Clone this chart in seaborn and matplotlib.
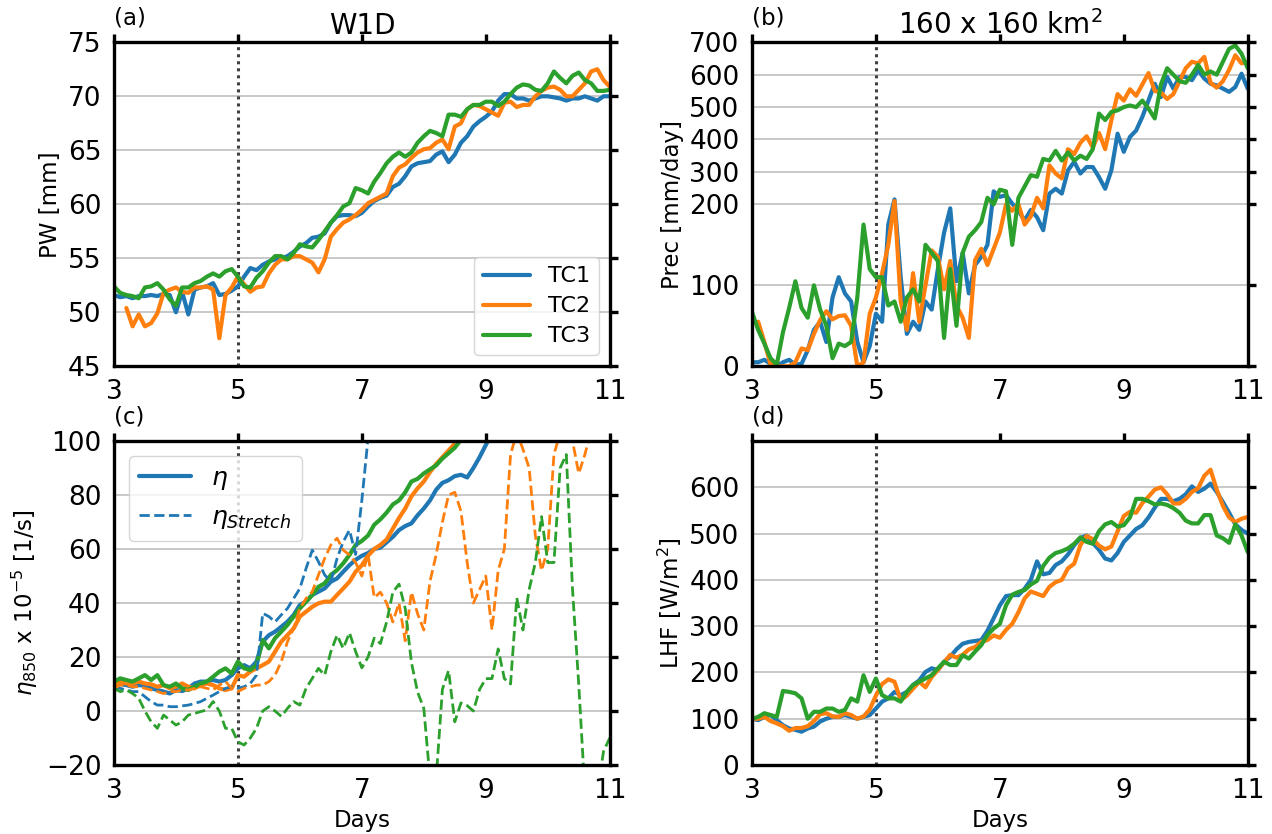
import numpy as np
import pandas as pd
import matplotlib
matplotlib.use("Agg")
import matplotlib.pyplot as plt
from matplotlib.lines import Line2D
import seaborn as sns

nan = np.nan

# time axis, one value every 0.1 day from day 3 to day 11
days = np.linspace(3, 11, 81)
runs = ["TC1", "TC2", "TC3"]
colors = ["#1f77b4", "#ff7f0e", "#2ca02c"]

# (a) precipitable water [mm]
pw_tc1 = [51.6, 51.4, 51.5, 51.3, 51.5, 51.5, 51.6, 51.5, 51.7, 51.6,
          50.0, 51.9, 49.8, 52.1, 52.3, 52.4, 52.7, 51.6, 51.7, 52.0,
          52.4, 53.3, 54.1, 53.9, 54.4, 54.7, 54.9, 55.0, 55.2, 55.6,
          56.1, 56.4, 56.9, 57.0, 57.3, 58.3, 58.9, 59.0, 59.0, 58.9,
          59.2, 59.8, 60.3, 60.6, 60.8, 61.6, 61.9, 62.6, 63.5, 63.8,
          63.9, 64.0, 64.6, 64.9, 63.9, 64.6, 65.7, 66.3, 67.2, 67.7,
          68.1, 68.6, 69.6, 70.2, 70.2, 69.8, 69.8, 69.6, 69.8, 70.0,
          70.0, 69.9, 69.8, 69.6, 69.8, 69.8, 70.0, 69.8, 69.6, 70.0,
          70.0]
pw_tc2 = [nan, nan, 50.4, 48.7, 49.8, 48.7, 49.0, 49.9, 51.8, 52.1,
          52.3, 51.9, 51.8, 52.3, 52.3, 52.4, 52.1, 47.6, 51.6, 52.3,
          53.3, 52.6, 51.9, 52.3, 52.4, 53.6, 54.4, 54.9, 54.9, 55.2,
          55.2, 54.9, 54.6, 53.7, 54.9, 57.0, 57.7, 58.3, 58.6, 59.0,
          59.5, 60.1, 60.4, 60.7, 61.0, 62.6, 63.4, 63.7, 64.3, 64.8,
          65.1, 65.2, 65.7, 66.0, 65.1, 67.2, 67.5, 68.8, 69.2, 69.1,
          68.8, 68.5, 68.2, 69.4, 69.5, 69.0, 69.2, 69.2, 70.0, 70.5,
          70.8, 70.9, 70.6, 70.0, 70.0, 70.6, 71.2, 72.3, 72.5, 71.5,
          70.9]
pw_tc3 = [52.4, 51.8, 51.6, 51.5, 51.3, 52.3, 52.4, 52.7, 52.1, 51.2,
          50.6, 52.3, 52.3, 52.7, 52.9, 53.3, 53.6, 53.3, 53.8, 54.0,
          53.3, 52.4, 52.3, 53.2, 53.8, 54.6, 55.2, 55.2, 54.9, 55.5,
          56.3, 56.1, 56.0, 56.7, 57.5, 58.3, 59.0, 59.8, 60.1, 61.5,
          61.3, 61.0, 62.1, 62.9, 63.8, 64.4, 64.8, 64.4, 64.8, 65.7,
          66.3, 66.8, 66.6, 66.3, 68.3, 68.3, 68.1, 68.8, 69.2, 69.2,
          69.5, 69.5, 69.1, 69.5, 70.2, 70.8, 71.1, 71.0, 70.6, 70.5,
          71.2, 72.3, 71.7, 71.2, 71.9, 72.2, 71.5, 71.2, 70.5, 70.5,
          70.6]

# (b) precipitation [mm/day]
prec_tc1 = [5, 5, 8, 3, 0, 5, 8, 2, 3, 20,
            45, 55, 30, 85, 110, 90, 80, 30, 5, 25,
            65, 55, 175, 215, 110, 40, 55, 45, 80, 70,
            120, 165, 195, 105, 140, 90, 125, 135, 150, 240,
            223, 228, 202, 192, 180, 193, 184, 168, 233, 248,
            233, 305, 331, 295, 315, 315, 284, 248, 305, 418,
            362, 408, 428, 470, 521, 572, 531, 593, 557, 593,
            593, 583, 614, 588, 572, 567, 557, 547, 562, 603,
            557]
prec_tc2 = [nan, 55, 30, 2, 0, 0, 0, 5, 22, 20,
            40, 57, 68, 58, 62, 63, 50, 0, 5, 65,
            85, 115, 150, 210, 80, 45, 115, 55, 100, 143,
            135, 95, 130, 75, 60, 35, 131, 145, 125, 145,
            165, 200, 192, 200, 175, 185, 220, 195, 320, 295,
            280, 370, 355, 390, 410, 375, 420, 370, 460, 540,
            520, 555, 535, 570, 605, 550, 545, 525, 540, 580,
            620, 640, 635, 655, 575, 560, 580, 615, 660, 635,
            640]
prec_tc3 = [67, 45, 28, 10, 2, 42, 72, 105, 72, 60,
            100, 70, 50, 10, 28, 25, 30, 85, 175, 120,
            110, 110, 75, 80, 55, 85, 95, 80, 150, 140,
            130, 35, 120, 50, 140, 160, 168, 178, 220, 200,
            245, 240, 150, 220, 255, 290, 285, 340, 335, 365,
            335, 360, 335, 350, 340, 370, 480, 460, 485, 490,
            500, 505, 500, 520, 495, 465, 570, 620, 600, 580,
            575, 600, 630, 600, 610, 600, 640, 680, 690, 665,
            620]

# (c) absolute vorticity at 850 hPa, x 1e-5 [1/s]
eta_tc1 = [10.2, 10.0, 9.6, 9.0, 9.6, 9.4, 8.4, 7.8, 7.2, 6.5,
           7.8, 7.4, 8.4, 10.2, 10.9, 10.9, 11.5, 10.9, 11.5, 13.3,
           15.8, 17.0, 15.8, 18.3, 25.7, 28.1, 29.4, 31.2, 33.1, 35.6,
           39.3, 40.5, 43.0, 44.2, 45.4, 47.9, 49.1, 51.6, 54.0, 56.0,
           57.5, 58.5, 60.0, 60.5, 62.5, 64.5, 67.0, 68.5, 69.5, 72.5,
           75.0, 78.0, 82.0, 84.5, 85.5, 87.0, 87.5, 86.5, 90.0, 94.0,
           98.5, 103, nan, nan, nan, nan, nan, nan, nan, nan,
           nan, nan, nan, nan, nan, nan, nan, nan, nan, nan,
           nan]
eta_tc2 = [9.6, 10.9, 10.2, 10.2, 10.9, 10.2, 9.9, 9.0, 9.6, 8.4,
           9.0, 10.2, 9.0, 8.4, 9.6, 10.2, 9.6, 8.4, 7.8, 8.4,
           13.3, 12.7, 14.6, 15.8, 17.0, 18.3, 22.0, 25.7, 28.1, 30.6,
           35.0, 36.8, 38.6, 39.9, 40.5, 40.5, 43.0, 45.4, 47.9, 51.6,
           54.0, 57.5, 60.0, 61.5, 63.5, 67.5, 71.5, 75.0, 79.5, 82.5,
           85.0, 88.5, 91.5, 94.0, 96.5, 99.0, 102, nan, nan, nan,
           nan, nan, nan, nan, nan, nan, nan, nan, nan, nan,
           nan, nan, nan, nan, nan, nan, nan, nan, nan, nan,
           nan]
eta_tc3 = [10.9, 12.1, 11.5, 10.9, 12.1, 13.3, 11.5, 13.3, 9.6, 9.0,
           10.2, 8.4, 7.8, 9.0, 10.2, 10.9, 12.7, 14.6, 15.8, 13.9,
           18.3, 15.8, 15.2, 17.0, 26.3, 23.2, 27.0, 29.4, 31.9, 35.0,
           38.0, 40.5, 43.0, 46.0, 47.3, 50.4, 52.2, 54.7, 57.8, 61.5,
           63.0, 65.0, 69.0, 71.0, 73.5, 76.5, 78.0, 81.0, 85.0, 86.0,
           88.0, 89.5, 91.0, 93.5, 95.5, 97.5, 100.5, 103, nan, nan,
           nan, nan, nan, nan, nan, nan, nan, nan, nan, nan,
           nan, nan, nan, nan, nan, nan, nan, nan, nan, nan,
           nan]
str_tc1 = [9.0, 8.4, 7.8, 7.2, 7.2, 5.3, 3.5, 2.2, 2.2, 1.6,
           1.6, 1.9, 2.2, 2.8, 3.5, 4.7, 5.9, 7.2, 8.4, 9.0,
           8.4, 9.0, 10.2, 13.3, 36.2, 35.0, 33.0, 35.6, 38.0, 41.7,
           45.4, 52.8, 59.6, 55.3, 50.4, 47.9, 56.5, 62.7, 67.0, 58.0,
           78.0, 101, nan, nan, nan, nan, nan, nan, nan, nan,
           nan, nan, nan, nan, nan, nan, nan, nan, nan, nan,
           nan, nan, nan, nan, nan, nan, nan, nan, nan, nan,
           nan, nan, nan, nan, nan, nan, nan, nan, nan, nan,
           nan]
str_tc2 = [8.4, 9.6, 9.6, 9.0, 9.0, 8.4, 7.8, 7.2, 6.5, 7.2,
           7.2, 7.8, 7.8, 8.4, 9.0, 8.4, 7.8, 9.6, 10.9, 8.4,
           7.2, 8.4, 9.0, 9.6, 9.6, 10.9, 13.3, 18.3, 25.7, 30.6,
           38.0, 41.7, 44.2, 50.4, 56.5, 61.5, 64.0, 59.6, 57.8, 55.0,
           50.0, 58.0, 42.0, 44.0, 40.0, 33.0, 40.0, 26.0, 44.0, 36.0,
           30.0, 48.0, 58.0, 70.0, 80.0, 81.0, 74.0, 55.0, 40.0, 45.0,
           50.0, 30.0, 52.0, 60.0, 95.0, 103, 97.0, 90.0, 65.0, 52.0,
           60.0, 95.0, 103, 104, 100, 88.0, 95.0, 104, nan, nan,
           nan]
str_tc3 = [8.4, 7.2, 7.8, 6.5, 4.7, 0.0, -4.0, -6.4, -1.5, -3.3,
           -5.2, -4.0, -1.5, -0.9, -0.2, 0.4, 3.5, 0.0, -6.4, -6.4,
           -11.4, -12.6, -10.0, -6.4, 0.0, 1.6, 0.0, -2.0, 1.0, 3.5,
           2.2, 8.4, 12.1, 15.8, 13.3, 22.0, 28.1, 23.2, 29.0, 22.0,
           16.0, 20.0, 27.0, 25.0, 33.0, 44.0, 47.0, 38.0, 18.0, 7.0,
           1.0, -25.0, -25.0, 8.0, 15.0, -4.0, 3.0, 2.0, 0.0, 8.0,
           12.0, 12.0, 23.0, 12.0, 10.0, 42.0, 30.0, 45.0, 55.0, 72.0,
           55.0, 55.0, 90.0, 95.0, 45.0, 10.0, -30.0, -30.0, -30.0, -15.0,
           -10.0]

# (d) latent heat flux [W/m2]
lhf_tc1 = [100, 97, 104, 108, 97, 86, 79, 76, 72, 79,
           83, 94, 100, 104, 104, 108, 104, 100, 104, 108,
           122, 137, 144, 158, 151, 158, 173, 183, 201, 209,
           205, 223, 234, 250, 262, 266, 268, 270, 290, 317,
           345, 365, 367, 367, 381, 400, 440, 412, 415, 432,
           440, 455, 475, 490, 496, 480, 465, 446, 442, 458,
           482, 496, 510, 518, 535, 556, 575, 575, 570, 575,
           585, 602, 590, 597, 608, 590, 568, 545, 520, 508,
           500]
lhf_tc2 = [100, 100, 104, 95, 90, 84, 74, 80, 80, 84,
           95, 110, 112, 105, 104, 112, 108, 100, 105, 120,
           150, 175, 185, 180, 140, 150, 165, 180, 168, 190,
           205, 222, 238, 232, 238, 250, 255, 266, 270, 280,
           275, 292, 305, 330, 360, 375, 370, 365, 385, 395,
           400, 425, 435, 475, 495, 488, 474, 466, 472, 505,
           538, 547, 545, 566, 580, 595, 600, 585, 565, 565,
           575, 590, 598, 625, 638, 595, 560, 535, 525, 532,
           536]
lhf_tc3 = [100, 104, 112, 108, 104, 160, 158, 155, 144, 100,
           115, 115, 122, 122, 115, 119, 144, 137, 194, 158,
           187, 151, 144, 144, 137, 158, 173, 180, 187, 194,
           209, 223, 216, 216, 237, 230, 245, 259, 281, 295,
           305, 345, 368, 374, 378, 390, 398, 430, 448, 458,
           462, 468, 478, 492, 482, 478, 505, 520, 525, 515,
           518, 535, 575, 575, 570, 563, 565, 562, 555, 545,
           528, 522, 522, 540, 540, 496, 490, 480, 520, 496,
           460]


def to_long(s1, s2, s3):
    return pd.DataFrame({
        "day": np.tile(days, 3),
        "value": np.concatenate([s1, s2, s3]),
        "run": np.repeat(runs, len(days)),
    })


def prec_fwd(y):
    y = np.asarray(y, dtype=float)
    return np.where(y <= 200, y, 200 + (y - 200) * 0.4)


def prec_inv(u):
    u = np.asarray(u, dtype=float)
    return np.where(u <= 200, u, 200 + (u - 200) / 0.4)


sns.set_style("white")
plt.rcParams["font.family"] = ["DejaVu Sans"]
plt.rcParams["text.color"] = "black"
plt.rcParams["axes.labelcolor"] = "black"
plt.rcParams["xtick.color"] = "black"
plt.rcParams["ytick.color"] = "black"

fig, axes = plt.subplots(2, 2, figsize=(12.72, 8.34), dpi=100)
fig.subplots_adjust(left=0.0896, right=0.9809, bottom=0.0827, top=0.9493,
                    wspace=0.287, hspace=0.2306)
ax_a, ax_b = axes[0]
ax_c, ax_d = axes[1]

pal = dict(zip(runs, colors))

sns.lineplot(data=to_long(pw_tc1, pw_tc2, pw_tc3), x="day", y="value", hue="run",
             palette=pal, lw=3, estimator=None, ax=ax_a)
sns.lineplot(data=to_long(prec_tc1, prec_tc2, prec_tc3), x="day", y="value", hue="run",
             palette=pal, lw=3, estimator=None, legend=False, ax=ax_b)
sns.lineplot(data=to_long(eta_tc1, eta_tc2, eta_tc3), x="day", y="value", hue="run",
             palette=pal, lw=3, estimator=None, legend=False, ax=ax_c)
sns.lineplot(data=to_long(str_tc1, str_tc2, str_tc3), x="day", y="value", hue="run",
             palette=pal, lw=2, ls="--", estimator=None, legend=False, ax=ax_c)
sns.lineplot(data=to_long(lhf_tc1, lhf_tc2, lhf_tc3), x="day", y="value", hue="run",
             palette=pal, lw=3, estimator=None, legend=False, ax=ax_d)

# precipitation axis: stretched below 200 mm/day
ax_b.set_yscale("function", functions=(prec_fwd, prec_inv))

ax_a.set_ylim(45, 75)
ax_a.set_yticks([45, 50, 55, 60, 65, 70, 75])
ax_b.set_ylim(0, 700)
ax_b.set_yticks([0, 100, 200, 300, 400, 500, 600, 700])
ax_b.set_yticklabels(["0", "100", "200", "300", "400", "500", "600", "700"])
ax_c.set_ylim(-20, 100)
ax_c.set_yticks([-20, 0, 20, 40, 60, 80, 100])
ax_d.set_ylim(0, 700)
ax_d.set_yticks([0, 100, 200, 300, 400, 500, 600])

lab_fs = 16.5
ax_a.set_ylabel("PW [mm]", fontsize=lab_fs)
ax_b.set_ylabel("Prec [mm/day]", fontsize=lab_fs)
ax_c.set_ylabel(r"$\eta_{850}$ x 10$^{-5}$ [1/s]", fontsize=lab_fs)
ax_d.set_ylabel(r"LHF [W/m$^2$]", fontsize=lab_fs)
for ax in (ax_a, ax_b):
    ax.set_xlabel("")
for ax in (ax_c, ax_d):
    ax.set_xlabel("Days", fontsize=lab_fs)

ax_a.set_title("W1D", fontsize=20, pad=6)
ax_b.set_title(r"160 x 160 km$^2$", fontsize=20, pad=6)

for ax, tag in zip((ax_a, ax_b, ax_c, ax_d), ("(a)", "(b)", "(c)", "(d)")):
    ax.set_xlim(3, 11)
    ax.set_xticks([3, 5, 7, 9, 11])
    ax.axvline(5, color="#404040", ls=(0, (1, 1.3)), lw=2.2, zorder=1)
    ax.set_axisbelow(True)
    ax.yaxis.grid(True, color="#c4c4c4", lw=1.3)
    ax.xaxis.grid(False)
    for sp in ax.spines.values():
        sp.set_linewidth(2.4)
        sp.set_color("black")
    ax.tick_params(direction="out", length=6, width=2.4, top=True, right=True,
                   labelsize=19, pad=3, colors="black")
    ax.text(0.0, 1.04, tag, transform=ax.transAxes, ha="left", va="bottom",
            fontsize=16.5)

ax_a.legend(loc="lower right", fontsize=16, handlelength=2.1, labelspacing=0.45,
            title=None)

leg_handles = [Line2D([], [], color=colors[0], lw=3, label=r"$\eta$"),
               Line2D([], [], color=colors[0], lw=2, ls="--", label=r"$\eta_{Stretch}$")]
ax_c.legend(handles=leg_handles, loc="upper left", fontsize=18, handlelength=2.1,
            borderaxespad=0.6)

fig.savefig("out.png", dpi=100)
